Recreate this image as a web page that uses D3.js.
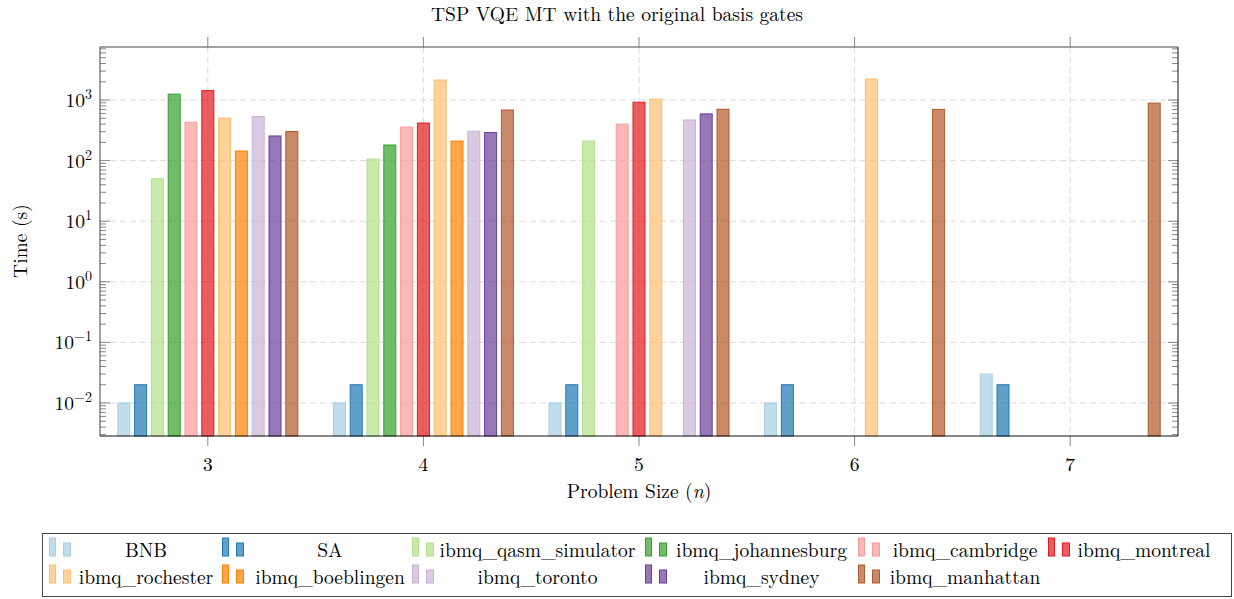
<!DOCTYPE html>
<html>
<head>
<meta charset="utf-8">
<script src="https://cdn.jsdelivr.net/npm/d3@7"></script>
<style>
  body { margin: 0; background: #fff; }
  svg { font-family: "Latin Modern Roman", "Liberation Serif", serif; }
</style>
</head>
<body>
<div id="chart"></div>
<script>
// problem sizes (categories)
var sizes = [3, 4, 5, 6, 7];
var seriesNames = ["BNB", "SA", "ibmq_qasm_simulator", "ibmq_johannesburg", "ibmq_cambridge",
  "ibmq_montreal", "ibmq_rochester", "ibmq_boeblingen", "ibmq_toronto", "ibmq_sydney", "ibmq_manhattan"];
var seriesColors = ["#a6cee3", "#1f78b4", "#b2df8a", "#33a02c", "#fb9a99", "#e31a1c",
  "#fdbf6f", "#ff7f00", "#cab2d6", "#6a3d9a", "#b15928"];

// time in seconds per series, one value per problem size (null = no run)
var bnb          = [0.01, 0.01, 0.01, 0.01, 0.03];
var sa           = [0.02, 0.02, 0.02, 0.02, 0.02];
var qasm         = [50, 106, 210, null, null];
var johannesburg = [1250, 181, null, null, null];
var cambridge    = [430, 358, 400, null, null];
var montreal     = [1430, 417, 920, null, null];
var rochester    = [505, 2140, 1035, 2220, null];
var boeblingen   = [144, 210, null, null, null];
var toronto      = [535, 305, 468, null, null];
var sydney       = [255, 290, 590, null, null];
var manhattan    = [302, 684, 705, 700, 890];
var seriesValues = [bnb, sa, qasm, johannesburg, cambridge, montreal, rochester,
  boeblingen, toronto, sydney, manhattan];

var yTicks = [-2, -1, 0, 1, 2, 3];

var W = 1234, H = 599;
var m = { left: 100, right: 1178, top: 47, bottom: 436 };

var svg = d3.select("#chart").append("svg")
  .attr("width", W).attr("height", H);

var x = d3.scaleLinear().domain([2.5, 7.5]).range([m.left, m.right]);
var y = d3.scaleLog().domain([Math.pow(10, -2.545), Math.pow(10, 3.875)]).range([m.bottom, m.top]);

var barW = 12, barStep = 16.8;

// grid
var grid = svg.append("g").attr("stroke", "#dadada").attr("stroke-dasharray", "6,4").attr("stroke-width", 1);
sizes.forEach(function (s) {
  grid.append("line").attr("x1", x(s)).attr("x2", x(s)).attr("y1", m.top).attr("y2", m.bottom);
});
yTicks.forEach(function (e) {
  grid.append("line").attr("x1", m.left).attr("x2", m.right)
    .attr("y1", y(Math.pow(10, e))).attr("y2", y(Math.pow(10, e)));
});

// bars
seriesValues.forEach(function (vals, i) {
  var pts = [];
  vals.forEach(function (v, j) { if (v != null) pts.push({ s: sizes[j], v: v }); });
  svg.append("g").selectAll("rect").data(pts).enter().append("rect")
    .attr("x", function (d) { return x(d.s) + (i - 5) * barStep - barW / 2; })
    .attr("width", barW)
    .attr("y", function (d) { return y(d.v); })
    .attr("height", function (d) { return m.bottom - y(d.v); })
    .attr("fill", seriesColors[i])
    .attr("fill-opacity", 0.7)
    .attr("stroke", seriesColors[i])
    .attr("stroke-width", 1);
});

// y ticks (major + minor) on both sides, inward
var tk = svg.append("g").attr("stroke", "#888").attr("stroke-width", 1);
for (var e = -3; e <= 3; e++) {
  for (var k = 1; k <= 9; k++) {
    var v = k * Math.pow(10, e);
    var yy = y(v);
    if (yy > m.bottom + 0.5 || yy < m.top - 0.5) continue;
    var len = k == 1 ? 10 : 6;
    tk.append("line").attr("x1", m.left).attr("x2", m.left + len).attr("y1", yy).attr("y2", yy);
    tk.append("line").attr("x1", m.right).attr("x2", m.right - len).attr("y1", yy).attr("y2", yy);
  }
}
// x ticks outward top & bottom
sizes.forEach(function (s) {
  tk.append("line").attr("x1", x(s)).attr("x2", x(s)).attr("y1", m.top - 10).attr("y2", m.top);
  tk.append("line").attr("x1", x(s)).attr("x2", x(s)).attr("y1", m.bottom).attr("y2", m.bottom + 10);
});

// frame
svg.append("line").attr("x1", m.left).attr("x2", m.right).attr("y1", m.top).attr("y2", m.top).attr("stroke", "#444");
svg.append("line").attr("x1", m.left).attr("x2", m.left).attr("y1", m.top).attr("y2", m.bottom).attr("stroke", "#444");
svg.append("line").attr("x1", m.left).attr("x2", m.right).attr("y1", m.bottom).attr("y2", m.bottom).attr("stroke", "#111");
svg.append("line").attr("x1", m.right).attr("x2", m.right).attr("y1", m.top).attr("y2", m.bottom).attr("stroke", "#111");

// tick labels
var fs = 19.5;
sizes.forEach(function (s) {
  svg.append("text").attr("x", x(s)).attr("y", m.bottom + 35).attr("text-anchor", "middle")
    .attr("font-size", fs).text(s);
});
yTicks.forEach(function (e) {
  var t = svg.append("text").attr("x", m.left - 8).attr("y", y(Math.pow(10, e)) + 7)
    .attr("text-anchor", "end").attr("font-size", fs);
  t.append("tspan").text("10");
  t.append("tspan").attr("dy", -8).attr("font-size", 14).text(e < 0 ? "\u2212" + (-e) : e);
});

// titles
svg.append("text").attr("x", 617).attr("y", 21).attr("text-anchor", "middle")
  .attr("font-size", fs).text("TSP VQE MT with the original basis gates");
var xl = svg.append("text").attr("x", 639).attr("y", 498).attr("text-anchor", "middle").attr("font-size", fs);
xl.append("tspan").text("Problem Size (");
xl.append("tspan").attr("font-style", "italic").text("n");
xl.append("tspan").text(")");
svg.append("text").attr("transform", "translate(27,241) rotate(-90)").attr("text-anchor", "middle")
  .attr("font-size", fs).text("Time (s)");

// legend
var leg = svg.append("g");
leg.append("rect").attr("x", 42.5).attr("y", 533.5).attr("width", 1189).attr("height", 63)
  .attr("fill", "#fff").attr("stroke", "#444");
var colImg = [49, 222, 412, 645, 858, 1048];
var colText = [[76, 216], [249, 411], [438, 637], [671, 852], [888, 1042], [1075, 1213]];
var rowY = [557, 584];
seriesNames.forEach(function (name, i) {
  var c = i % 6, r = Math.floor(i / 6);
  var g = leg.append("g");
  var base = rowY[r] - 1;
  g.append("rect").attr("x", colImg[c] + 0.5).attr("y", base - 18).attr("width", 6).attr("height", 18)
    .attr("fill", seriesColors[i]).attr("fill-opacity", 0.7).attr("stroke", seriesColors[i]);
  g.append("rect").attr("x", colImg[c] + 14.5).attr("y", base - 13).attr("width", 7).attr("height", 13)
    .attr("fill", seriesColors[i]).attr("fill-opacity", 0.7).attr("stroke", seriesColors[i]);
  g.append("text").attr("x", (colText[c][0] + colText[c][1]) / 2).attr("y", rowY[r])
    .attr("text-anchor", "middle").attr("font-size", fs).text(name);
});
</script>
</body>
</html>
